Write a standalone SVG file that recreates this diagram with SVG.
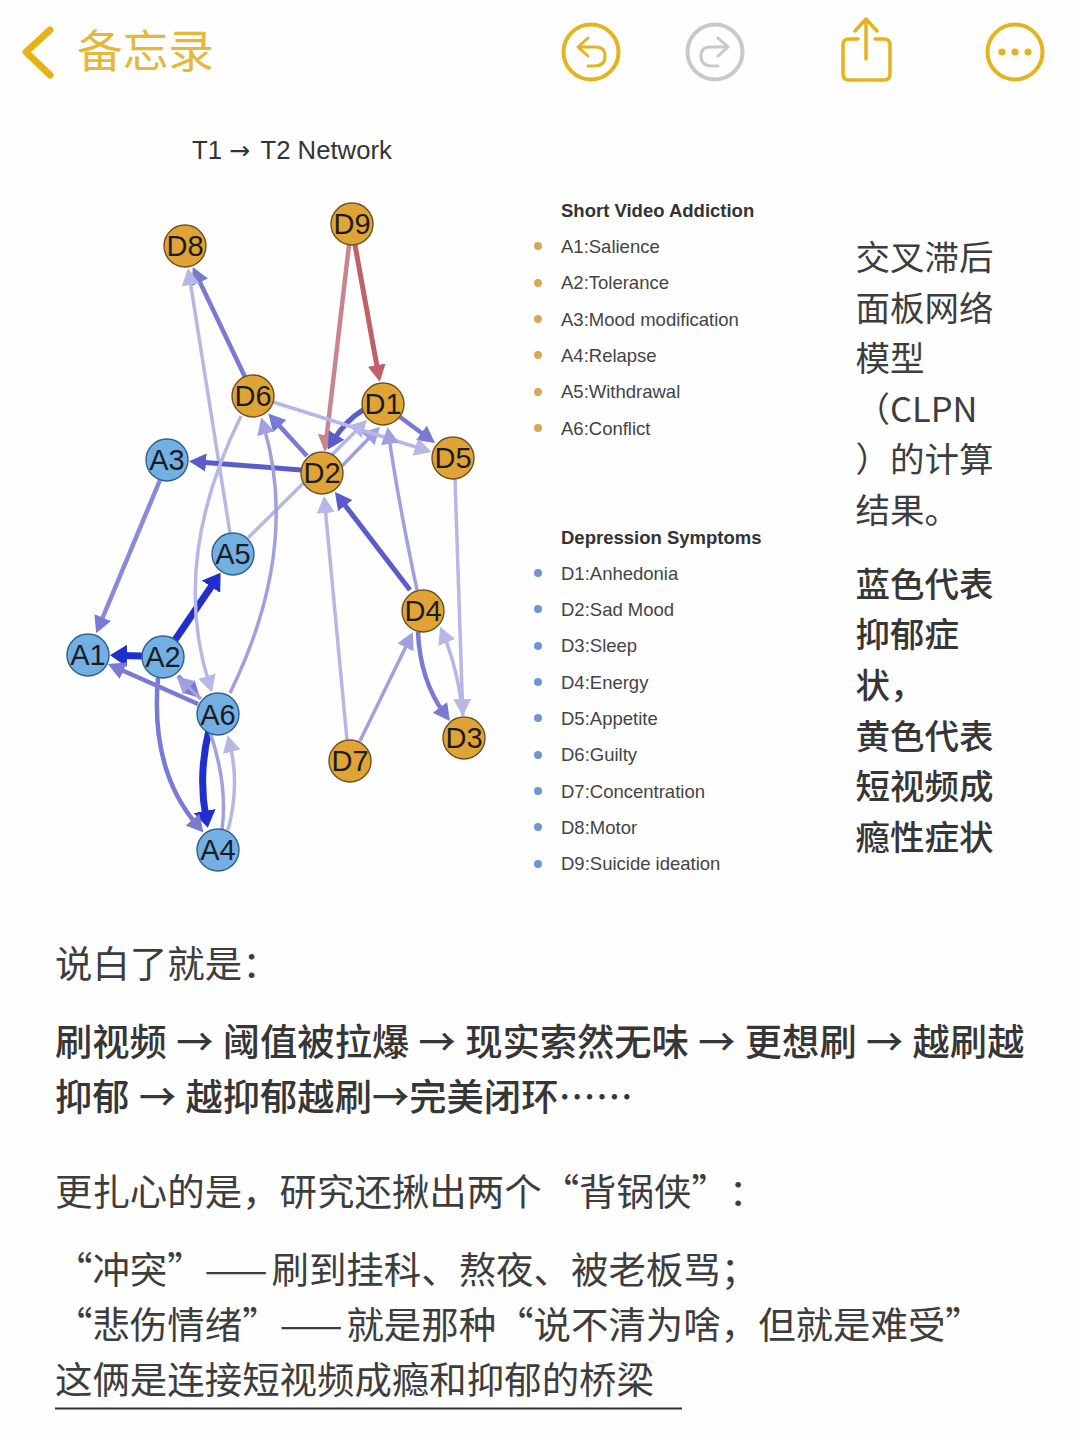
<svg xmlns="http://www.w3.org/2000/svg" width="1080" height="1440" viewBox="0 0 1080 1440">
<style>
.e{fill:none}
.n circle{stroke-width:1.4}
.d circle{fill:#e0a436;stroke:#6b5120}
.a circle{fill:#72b0e3;stroke:#2f5f86}
.n text{font:29px "Liberation Sans",Arial,sans-serif;fill:#1c1c24;text-anchor:middle}
.l{font:18.5px "Liberation Sans",Arial,sans-serif;fill:#444}
.lb{font:bold 18.5px "Liberation Sans",Arial,sans-serif;fill:#333}
.t{font:37.45px "Noto Sans CJK SC","Noto Sans",sans-serif;fill:#3d3d3d;text-spacing-trim:space-all}
.tb{font:500 37.3px "Noto Sans CJK SC","Noto Sans",sans-serif;fill:#363636;word-spacing:.9px;text-spacing-trim:space-all}
.r{font:34.5px "Noto Sans CJK SC","Noto Sans",sans-serif;fill:#3d3d3d}
.rb{font:500 34.5px "Noto Sans CJK SC","Noto Sans",sans-serif;fill:#363636}
.ic{fill:none;stroke:#e5b41c;stroke-width:4;stroke-linecap:round;stroke-linejoin:round}
.c1{stroke:#b7b7e6;stroke-width:3.5}
.c2{stroke:#a0a0e0;stroke-width:3.5}
.c3{stroke:#7a7ad4;stroke-width:4.5}
.c4{stroke:#5a5ccb;stroke-width:5}
.c5{stroke:#1f2fce;stroke-width:7}
.c6{stroke:#c0606a;stroke-width:5}
.c7{stroke:#c9848e;stroke-width:4.5}
</style>
<defs>
<marker id="m1" markerUnits="userSpaceOnUse" markerWidth="18" markerHeight="20" refX="7" refY="10" orient="auto"><path d="M0,1L17,10L0,19Z" fill="#b7b7e6"/></marker>
<marker id="m2" markerUnits="userSpaceOnUse" markerWidth="18" markerHeight="20" refX="7" refY="10" orient="auto"><path d="M0,1L17,10L0,19Z" fill="#a0a0e0"/></marker>
<marker id="m3" markerUnits="userSpaceOnUse" markerWidth="18" markerHeight="20" refX="7" refY="10" orient="auto"><path d="M0,1L17,10L0,19Z" fill="#7a7ad4"/></marker>
<marker id="m4" markerUnits="userSpaceOnUse" markerWidth="18" markerHeight="20" refX="7" refY="10" orient="auto"><path d="M0,1L17,10L0,19Z" fill="#5a5ccb"/></marker>
<marker id="m5" markerUnits="userSpaceOnUse" markerWidth="18" markerHeight="22" refX="7" refY="11" orient="auto"><path d="M0,0L17,11L0,22Z" fill="#1f2fce"/></marker>
<marker id="m6" markerUnits="userSpaceOnUse" markerWidth="18" markerHeight="20" refX="7" refY="10" orient="auto"><path d="M0,1L17,10L0,19Z" fill="#c0606a"/></marker>
<marker id="m7" markerUnits="userSpaceOnUse" markerWidth="18" markerHeight="20" refX="7" refY="10" orient="auto"><path d="M0,1L17,10L0,19Z" fill="#c9848e"/></marker>
</defs>
<rect width="1080" height="1440" fill="#fefefe"/>
<g id="toolbar">
<path d="M50,30L26,52L50,75" fill="none" stroke="#e5b312" stroke-width="7" stroke-linecap="round" stroke-linejoin="round"/>
<text x="77" y="68" style="font:45.7px 'Noto Sans CJK SC',sans-serif;fill:#e5b83a">备忘录</text>
<circle class="ic" cx="591" cy="52" r="27.500"/>
<path class="ic" d="M588,38L578,47L588,56M578,47H596Q605,47 605,56Q605,66 594,66H588" style="stroke-width:3"/>
<circle class="ic" style="stroke:#c9c9c9" cx="715" cy="52" r="27.500"/>
<path class="ic" style="stroke:#c9c9c9;stroke-width:3" d="M718,38L728,47L718,56M728,47H710Q701,47 701,56Q701,66 712,66H718"/>
<path class="ic" d="M858,39H849Q843,39 843,45V74Q843,80 849,80H884Q890,80 890,74V45Q890,39 884,39H875M866,59V19M855,31L866,19L877,31" style="stroke-width:3.5"/>
<circle class="ic" cx="1015" cy="52" r="27.500"/>
<circle cx="1002" cy="52" r="3.6" fill="#e5b41c"/><circle cx="1015" cy="52" r="3.6" fill="#e5b41c"/><circle cx="1028" cy="52" r="3.6" fill="#e5b41c"/>
</g>
<text id="title" x="192" y="159" style="font:25.700px 'Liberation Sans',Arial,sans-serif;fill:#333">T1<tspan x="229" style="font-family:'DejaVu Sans',sans-serif;font-size:25px">→</tspan><tspan x="260.500">T2 Network</tspan></text>
<g id="connectors" class="e">
<path class="c3 e" marker-end="url(#m3)" d="M245,377L197,276"/>
<path class="c1 e" marker-end="url(#m1)" d="M230,533L189.6,278"/>
<path class="c6 e" marker-end="url(#m6)" d="M355,245L378,372"/>
<path class="c7 e" marker-end="url(#m7)" d="M349,245L326,442"/>
<path class="c3 e" marker-end="url(#m3)" d="M307,456L275,421"/>
<path class="c4 e" marker-end="url(#m4)" d="M301,470L199,462"/>
<path class="c4 e" marker-end="url(#m4)" d="M363,410Q345,421 333,441"/>
<path class="c1 e" marker-end="url(#m1)" d="M248,538L360,427"/>
<path class="c2 e" marker-end="url(#m2)" d="M342,466L373,434"/>
<path class="c3 e" marker-end="url(#m3)" d="M400,417L427,437"/>
<path class="c1 e" marker-end="url(#m1)" d="M273,402L422,449"/>
<path class="c2 e" marker-end="url(#m2)" d="M417,590Q398,500 389,437"/>
<path class="c1 e" marker-end="url(#m1)" d="M455,479L462.5,706"/>
<path class="c4 e" marker-end="url(#m4)" d="M410,590L341,500"/>
<path class="c1 e" marker-end="url(#m1)" d="M347,740L325,506"/>
<path class="c2 e" marker-end="url(#m2)" d="M360,741L408.6,641"/>
<path class="c3 e" marker-end="url(#m3)" d="M418,632Q420,680 444,713"/>
<path class="c1 e" marker-end="url(#m1)" d="M463,716Q458,670 444,636"/>
<path class="c3 e" style="stroke:#8a8ada" marker-end="url(#m3)" d="M160,480L100,624"/>
<path class="c5 e" marker-end="url(#m5)" d="M175,640L215,581"/>
<path class="c5 e" marker-end="url(#m5)" d="M142,656L120,655.5"/>
<path class="c3 e" marker-end="url(#m3)" d="M198,704L117,668"/>
<path class="c3 e" marker-end="url(#m3)" d="M178,676L193,691"/>
<path class="c2 e" marker-end="url(#m2)" d="M201,699L184,683"/>
<path class="c1 e" marker-end="url(#m1)" d="M241,416Q170,560 209,683"/>
<path class="c2 e" marker-end="url(#m2)" d="M230,693Q300,550 264,427"/>
<path class="c5 e" marker-end="url(#m5)" d="M209,730Q198,775 206,818"/>
<path class="c3 e" marker-end="url(#m3)" d="M158,678Q150,770 197,825"/>
<path class="c1 e" marker-end="url(#m1)" d="M228,830Q240,785 230,745"/>
<path class="c2 e" d="M210,732Q228,785 222,830"/>
</g>
<g id="D8" class="n d"><circle cx="185" cy="246" r="21"/><text x="185" y="256">D8</text></g>
<g id="D9" class="n d"><circle cx="352" cy="224" r="21"/><text x="352" y="234">D9</text></g>
<g id="D6" class="n d"><circle cx="253" cy="396" r="21"/><text x="253" y="406">D6</text></g>
<g id="D1" class="n d"><circle cx="383" cy="404" r="21"/><text x="383" y="414">D1</text></g>
<g id="D5" class="n d"><circle cx="453" cy="458" r="21"/><text x="453" y="468">D5</text></g>
<g id="D2" class="n d"><circle cx="322" cy="473" r="21"/><text x="322" y="483">D2</text></g>
<g id="D4" class="n d"><circle cx="423" cy="611" r="21"/><text x="423" y="621">D4</text></g>
<g id="D3" class="n d"><circle cx="464" cy="738" r="21"/><text x="464" y="748">D3</text></g>
<g id="D7" class="n d"><circle cx="350" cy="761" r="21"/><text x="350" y="771">D7</text></g>
<g id="A3" class="n a"><circle cx="167" cy="460" r="21"/><text x="167" y="470">A3</text></g>
<g id="A5" class="n a"><circle cx="233" cy="554" r="21"/><text x="233" y="564">A5</text></g>
<g id="A1" class="n a"><circle cx="88" cy="655" r="21"/><text x="88" y="665">A1</text></g>
<g id="A2" class="n a"><circle cx="163" cy="657" r="21"/><text x="163" y="667">A2</text></g>
<g id="A6" class="n a"><circle cx="218" cy="714" r="21"/><text x="218" y="725">A6</text></g>
<g id="A4" class="n a"><circle cx="218" cy="850" r="21"/><text x="218" y="860">A4</text></g>
<g id="legend">
<text class="lb" x="561" y="217">Short Video Addiction</text>
<g fill="#d9a94e"><circle cx="538" cy="246" r="4"/><circle cx="538" cy="283" r="4"/><circle cx="538" cy="319" r="4"/><circle cx="538" cy="355" r="4"/><circle cx="538" cy="392" r="4"/><circle cx="538" cy="428" r="4"/></g>
<text class="l" x="561" y="253">A1:Salience</text>
<text class="l" x="561" y="289">A2:Tolerance</text>
<text class="l" x="561" y="326">A3:Mood modification</text>
<text class="l" x="561" y="362">A4:Relapse</text>
<text class="l" x="561" y="398">A5:Withdrawal</text>
<text class="l" x="561" y="435">A6:Conflict</text>
<text class="lb" x="561" y="544">Depression Symptoms</text>
<g fill="#6f94d8"><circle cx="538" cy="573" r="4"/><circle cx="538" cy="609" r="4"/><circle cx="538" cy="646" r="4"/><circle cx="538" cy="682" r="4"/><circle cx="538" cy="718" r="4"/><circle cx="538" cy="755" r="4"/><circle cx="538" cy="791" r="4"/><circle cx="538" cy="827" r="4"/><circle cx="538" cy="864" r="4"/></g>
<text class="l" x="561" y="580">D1:Anhedonia</text>
<text class="l" x="561" y="616">D2:Sad Mood</text>
<text class="l" x="561" y="652">D3:Sleep</text>
<text class="l" x="561" y="689">D4:Energy</text>
<text class="l" x="561" y="725">D5:Appetite</text>
<text class="l" x="561" y="761">D6:Guilty</text>
<text class="l" x="561" y="798">D7:Concentration</text>
<text class="l" x="561" y="834">D8:Motor</text>
<text class="l" x="561" y="870">D9:Suicide ideation</text>
</g>
<g id="side">
<text class="r" x="855.500" y="270">交叉滞后</text>
<text class="r" x="855.500" y="321">面板网络</text>
<text class="r" x="855.500" y="371">模型</text>
<text class="r" x="855.500" y="422">（CLPN</text>
<text class="r" x="855.500" y="472">）的计算</text>
<text class="r" x="855.500" y="523">结果。</text>
<text class="rb" x="855.500" y="597">蓝色代表</text>
<text class="rb" x="855.500" y="647">抑郁症</text>
<text class="rb" x="855.500" y="698">状，</text>
<text class="rb" x="855.500" y="749">黄色代表</text>
<text class="rb" x="855.500" y="799">短视频成</text>
<text class="rb" x="855.500" y="850">瘾性症状</text>
</g>
<g id="body">
<text class="t" x="55" y="978">说白了就是：</text>
<text class="tb" x="55" y="1056">刷视频 → 阈值被拉爆 → 现实索然无味 → 更想刷 → 越刷越</text>
<text class="tb" x="55" y="1111">抑郁 → 越抑郁越刷→完美闭环……</text>
<text class="t" x="55" y="1206">更扎心的是，研究还揪出两个“背锅侠”：</text>
<text class="t" x="55" y="1284">“冲突”<tspan letter-spacing="4">——</tspan>刷到挂科、熬夜、被老板骂；</text>
<text class="t" x="55" y="1339">“悲伤情绪”<tspan letter-spacing="4">——</tspan>就是那种“说不清为啥，但就是难受”</text>
<text class="t" x="55" y="1394">这俩是连接短视频成瘾和抑郁的桥梁</text>
<line x1="55" y1="1408.500" x2="682" y2="1408.500" stroke="#333" stroke-width="2"/>
</g>
</svg>
